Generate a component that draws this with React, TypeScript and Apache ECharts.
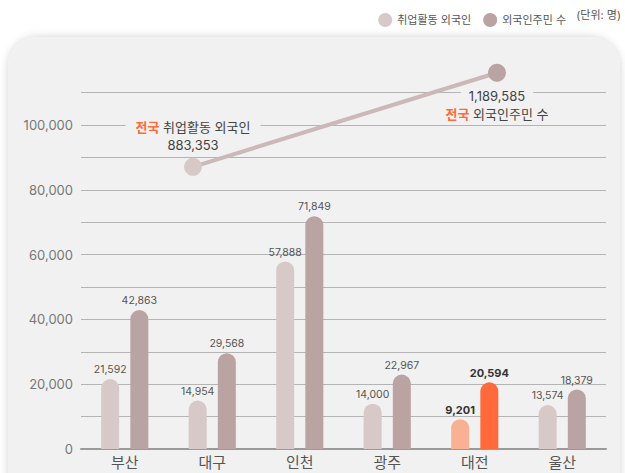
import React, { useEffect, useRef } from "react";
import * as echarts from "echarts";

const categories = ["부산", "대구", "인천", "광주", "대전", "울산"];
const employedForeigners = [21592, 14954, 57888, 14000, 9201, 13574];
const foreignResidents = [42863, 29568, 71849, 22967, 20594, 18379];
const highlightCategory = "대전";
const nationalValues = [883353, 1189585];
const nationalNames = ["취업활동 외국인", "외국인주민 수"];
const nationalPositions = [1.28, 4.754];
const yTicks = [0, 20000, 40000, 60000, 80000, 100000];

const FONT = "Inter, 'Noto Sans CJK KR', sans-serif";
const LIGHT = "#d8c9c9";
const DARK = "#b9a3a3";
const HL_LIGHT = "#f8b192";
const HL_DARK = "#ff6a3d";
const PANEL = "#f1f1f1";
const fmt = (v: number) => v.toLocaleString("en-US");

export default function App() {
  const ref = useRef<HTMLDivElement>(null);
  useEffect(() => {
    const chart = echarts.init(ref.current!, null, { renderer: "svg" });
    const hi = categories.indexOf(highlightCategory);
    const mkBar = (vals: number[], hl: string) =>
      vals.map((v, i) =>
        i === hi
          ? {
              value: v,
              itemStyle: { color: hl },
              label: { fontWeight: "bold", color: "#333", fontSize: 11 },
            }
          : v
      );
    const barLabel = {
      show: true,
      position: "top",
      distance: 4,
      fontSize: 10.5,
      color: "#555",
      fontFamily: FONT,
      formatter: (p: any) => fmt(p.value),
    };
    const base = { fontSize: 13, fontFamily: FONT, lineHeight: 18 };
    chart.setOption({
      animation: false,
      backgroundColor: "#ffffff",
      textStyle: { fontFamily: FONT },
      graphic: [
        {
          type: "rect",
          z: -10,
          shape: { x: 8, y: 37, width: 612, height: 470, r: 30 },
          style: {
            fill: PANEL,
            shadowBlur: 8,
            shadowColor: "rgba(0,0,0,0.18)",
          },
        },
        {
          type: "text",
          right: 4,
          top: 9,
          style: {
            text: "(단위: 명)",
            fontSize: 11,
            fill: "#555",
            fontFamily: FONT,
          },
        },
      ],
      legend: {
        data: nationalNames,
        right: 54,
        top: 8,
        icon: "circle",
        itemWidth: 14,
        itemHeight: 14,
        itemGap: 12,
        textStyle: { fontSize: 11, color: "#555", fontFamily: FONT },
      },
      grid: { left: 81, right: 19, top: 92.6, bottom: 24 },
      xAxis: [
        {
          type: "category",
          data: categories,
          axisTick: { show: false },
          axisLine: { lineStyle: { color: "#9a9a9a", width: 2 } },
          axisLabel: { fontSize: 15, color: "#555", margin: 6, fontFamily: FONT },
        },
        { type: "value", min: 0, max: 6, show: false },
      ],
      yAxis: [
        {
          type: "value",
          min: 0,
          max: 110000,
          interval: 10000,
          axisLine: { show: false },
          axisTick: { show: false },
          splitLine: { lineStyle: { color: "#b4b4b4", width: 1 } },
          axisLabel: {
            fontSize: 13,
            color: "#777",
            margin: 8,
            fontFamily: FONT,
            formatter: (v: number) => (yTicks.includes(v) ? fmt(v) : ""),
          },
        },
        {
          type: "value",
          min: -35000,
          max: 1125000,
          show: false,
          splitLine: { show: false },
        },
      ],
      series: [
        {
          name: nationalNames[0],
          type: "bar",
          data: mkBar(employedForeigners, HL_LIGHT),
          itemStyle: { color: LIGHT, borderRadius: [9, 9, 0, 0] },
          barWidth: 18,
          barGap: "62%",
          label: barLabel,
        },
        {
          name: nationalNames[1],
          type: "bar",
          data: mkBar(foreignResidents, HL_DARK),
          itemStyle: { color: DARK, borderRadius: [9, 9, 0, 0] },
          barWidth: 18,
          label: barLabel,
        },
        {
          name: "전국",
          type: "line",
          xAxisIndex: 1,
          yAxisIndex: 1,
          clip: false,
          symbol: "circle",
          symbolSize: 18,
          z: 5,
          lineStyle: { color: "#cbb8b8", width: 4 },
          data: [
            {
              value: [nationalPositions[0], nationalValues[0]],
              itemStyle: { color: LIGHT },
              label: {
                show: true,
                position: "top",
                distance: 4,
                align: "center",
                lineHeight: 18,
                formatter: `{o|전국}{t| ${nationalNames[0]}}\n{n|${fmt(nationalValues[0])}}`,
                rich: {
                  o: { ...base, color: HL_DARK, fontWeight: "bold", backgroundColor: PANEL, padding: [0, 0, 0, 10] },
                  t: { ...base, color: "#444", backgroundColor: PANEL, padding: [0, 10, 0, 0] },
                  n: { ...base, color: "#444" },
                },
              },
            },
            {
              value: [nationalPositions[1], nationalValues[1]],
              itemStyle: { color: DARK },
              label: {
                show: true,
                position: "bottom",
                distance: 5,
                align: "center",
                lineHeight: 18,
                formatter: `{n|${fmt(nationalValues[1])}}\n{o|전국}{t| ${nationalNames[1]}}`,
                rich: {
                  n: { ...base, color: "#444", backgroundColor: PANEL, padding: [0, 8] },
                  o: { ...base, color: HL_DARK, fontWeight: "bold" },
                  t: { ...base, color: "#444" },
                },
              },
            },
          ],
        },
      ],
    });
    return () => chart.dispose();
  }, []);
  return (
    <div
      ref={ref}
      style={{ position: "fixed", left: 0, top: 0, width: 625, height: 473 }}
    />
  );
}
